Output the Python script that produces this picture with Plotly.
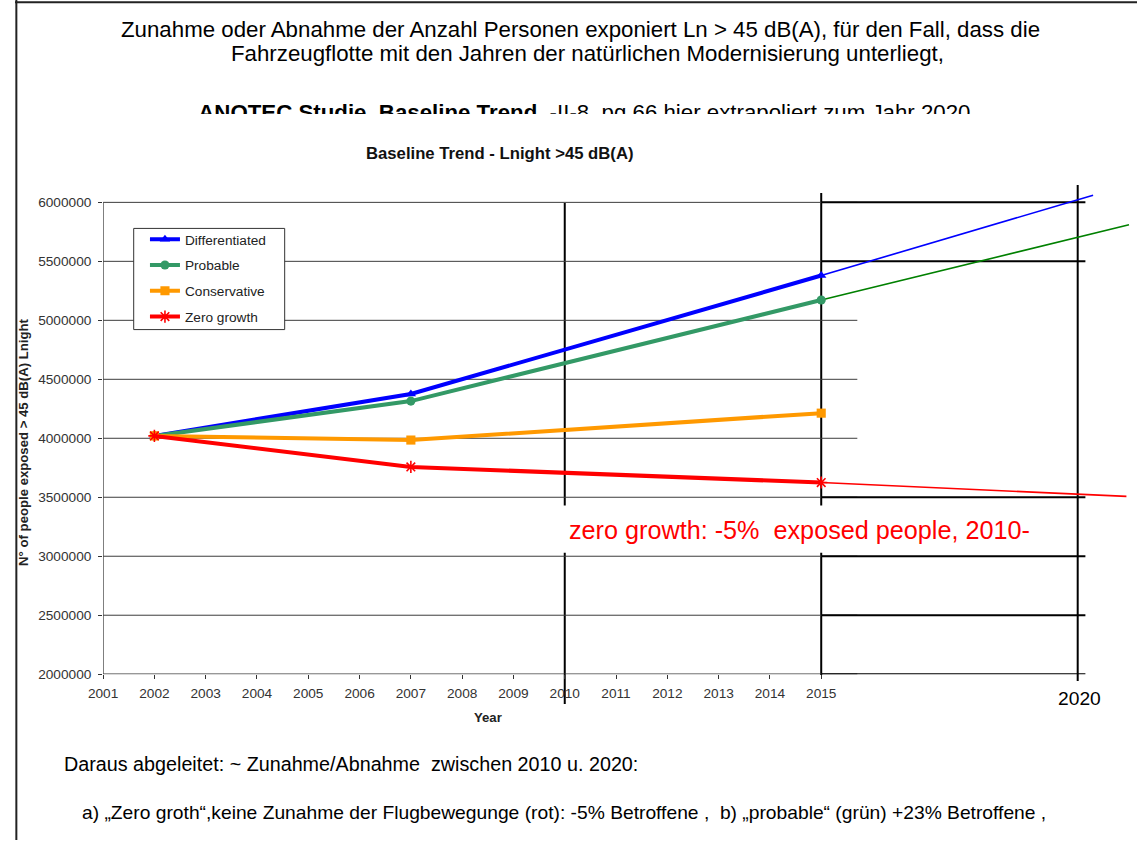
import plotly.graph_objects as go

W, H = 1137, 848
FONT = "Liberation Sans, Arial, sans-serif"

# ---------------- data ----------------
YEARS = [2002, 2007, 2015]
DIFFERENTIATED = [4020000, 4375000, 5380000]
PROBABLE = [4020000, 4315000, 5172000]
CONSERVATIVE = [4020000, 3985000, 4213000]
ZERO_GROWTH = [4020000, 3757000, 3625000]

# hand-drawn extrapolation lines
EXT_DIFF_YEARS = [2015, 2020.3]
EXT_DIFF = [5380000, 6060000]
EXT_PROB_YEARS = [2015, 2021.0]
EXT_PROB = [5172000, 5810000]
EXT_ZERO_YEARS = [2015, 2020.95]
EXT_ZERO = [3625000, 3507000]

X_TICKS = list(range(2001, 2016))
X_TICK_LABELS = [str(v) for v in X_TICKS]
Y_TICKS = [2000000, 2500000, 3000000, 3500000, 4000000, 4500000, 5000000, 5500000, 6000000]
Y_TICK_LABELS = ["2000000", "2500000", "3000000", "3500000", "4000000",
                 "4500000", "5000000", "5500000", "6000000"]
EXT_GRID_LEVELS = [6000000, 5500000, 3500000, 3000000, 2500000, 2000000]
MARK_YEARS = [2010, 2015, 2020]

SERIES = [
    ("Differentiated", DIFFERENTIATED, "#0000FF", "triangle-up"),
    ("Probable", PROBABLE, "#339966", "circle"),
    ("Conservative", CONSERVATIVE, "#FF9900", "square"),
    ("Zero growth", ZERO_GROWTH, "#FF0000", "asterisk-open"),
]
EXTENSIONS = [
    (EXT_DIFF_YEARS, EXT_DIFF, "#0000FF"),
    (EXT_PROB_YEARS, EXT_PROB, "#008000"),
    (EXT_ZERO_YEARS, EXT_ZERO, "#FF0000"),
]

# ---------------- geometry (target-picture pixels -> figure pixels) ----------------
SX, OX = 0.9869, 14.6
SY, OY = 0.9888, 0.3
S = 1 / 0.9875  # size compensation


def RX(x):
    return (x - OX) / SX


def RY(y):
    return (y - OY) / SY


def PX(x):
    return RX(x) / W


def PY(y):
    return 1 - RY(y) / H


X_LEFT = 102.7       # picture px of year 2001
PX_PER_YEAR = 51.3   # picture px per year
Y_BOT = 673.3        # picture px of 2 000 000
Y_TOP = 180.0        # top of data area
PX_PER_MIO = 117.75  # picture px per million

x_left_fig = RX(X_LEFT)
x_range = [2001, 2001 + (W - x_left_fig) / (PX_PER_YEAR / SX)]
y_range = [2000000, 2000000 + (Y_BOT - Y_TOP) / PX_PER_MIO * 1e6]
x_grid_end = 2001 + (857 - X_LEFT) / PX_PER_YEAR

fig = go.Figure()

for xs, ys, col in EXTENSIONS:
    fig.add_trace(go.Scatter(x=xs, y=ys, mode="lines", line=dict(color=col, width=1.6 * S),
                             showlegend=False, hoverinfo="skip"))

for i, (name, vals, col, sym) in enumerate(SERIES):
    marker = dict(symbol=sym, size=9 * S, color=col)
    if sym == "asterisk-open":
        marker = dict(symbol=sym, size=10 * S, color=col, line=dict(color=col, width=1.6))
    fig.add_trace(go.Scatter(x=YEARS, y=vals, mode="lines+markers", name=name,
                             line=dict(color=col, width=4 * S), marker=marker,
                             legendgroup=f"g{i}"))

# header line partly hidden behind the chart picture (clipped by its own subplot)
CLIP_Y = 114
fig.add_trace(go.Scatter(
    x=[584], y=[114.5], mode="text", xaxis="x2", yaxis="y2",
    text=["<b>ANOTEC Studie, Baseline Trend</b>, -II-8, pg 66 hier extrapoliert zum Jahr 2020"],
    textfont=dict(family=FONT, size=22 * S, color="#000000"), textposition="middle center",
    cliponaxis=True, showlegend=False, hoverinfo="skip"))

shapes = []
for v in Y_TICKS[1:]:
    shapes.append(dict(type="line", xref="x", yref="y", x0=2001, x1=x_grid_end, y0=v, y1=v,
                       line=dict(color="#3c3c3c", width=1), layer="below"))
shapes.append(dict(type="line", xref="x", yref="y", x0=2001, x1=2001, y0=Y_TICKS[0], y1=Y_TICKS[-1],
                   line=dict(color="#333333", width=1.2), layer="below"))
shapes.append(dict(type="line", xref="x", yref="y", x0=2001, x1=x_grid_end, y0=Y_TICKS[0], y1=Y_TICKS[0],
                   line=dict(color="#333333", width=1.2), layer="below"))
for v in EXT_GRID_LEVELS:
    shapes.append(dict(type="line", xref="x", yref="y", x0=2015.0, x1=2020.15, y0=v, y1=v,
                       line=dict(color="#000000", width=2), layer="below"))
vspan = {2010: (203, 703), 2015: (193, 674), 2020: (185, 680)}
for yr in MARK_YEARS:
    t, b = vspan[yr]
    shapes.append(dict(type="line", xref="x", yref="paper", x0=yr, x1=yr, y0=PY(b), y1=PY(t),
                       line=dict(color="#000000", width=2), layer="below"))
shapes.append(dict(type="rect", xref="x", yref="y", x0=2009.85, x1=2019.6, y0=3030000, y1=3430000,
                   fillcolor="#FFFFFF", line=dict(width=0), layer="below"))
# legend frame
shapes.append(dict(type="rect", xref="paper", yref="paper", x0=PX(133.3), x1=PX(284.3),
                   y0=PY(329.3), y1=PY(228.3), fillcolor="#FFFFFF",
                   line=dict(color="#333333", width=1), layer="above"))
# slide borders
shapes.append(dict(type="line", xref="paper", yref="paper", x0=0, x1=1, y0=PY(2.5), y1=PY(2.5),
                   line=dict(color="#222222", width=2)))
shapes.append(dict(type="line", xref="paper", yref="paper", x0=0.0012, x1=0.0012, y0=0, y1=1,
                   line=dict(color="#222222", width=2)))


def ann(text, x, y, size, color="#000000", xanchor="center", bold=False, angle=0):
    return dict(text=(f"<b>{text}</b>" if bold else text), x=PX(x), y=PY(y), xref="paper",
                yref="paper", showarrow=False, xanchor=xanchor, yanchor="middle",
                textangle=angle, font=dict(family=FONT, size=size * S, color=color))


annotations = [
    ann("Zunahme oder Abnahme der Anzahl Personen exponiert Ln &gt; 45 dB(A), für den Fall, dass die",
        580, 30, 22),
    ann("Fahrzeugflotte mit den Jahren der natürlichen Modernisierung unterliegt,", 587, 54, 22),
    ann("Baseline Trend - Lnight &gt;45 dB(A)", 500, 153.5, 16.5, "#111111", bold=True),
    ann("N° of people exposed &gt; 45 dB(A) Lnight", 23, 442, 13, "#222222", bold=True, angle=-90),
    ann("Year", 487.7, 717, 13, "#222222", bold=True),
    ann("2020", 1079, 698, 19),
    ann("zero growth: -5%\u00a0 exposed people, 2010-", 567, 529, 24.9, "#FF0000", xanchor="left"),
    ann("Daraus abgeleitet: ~ Zunahme/Abnahme\u00a0 zwischen 2010 u. 2020:", 62, 763, 19.5, xanchor="left"),
    ann("a) \u201eZero groth\u201c,keine Zunahme der Flugbewegunge (rot): -5% Betroffene ,\u00a0 b) "
        "\u201eprobable\u201c (grün) +23% Betroffene ,", 80, 811, 19, xanchor="left"),
]

fig.update_layout(
    width=W, height=H, margin=dict(l=0, r=0, t=0, b=0, pad=0),
    paper_bgcolor="#FFFFFF", plot_bgcolor="rgba(0,0,0,0)",
    font=dict(family=FONT, size=13, color="#333333"),
    xaxis=dict(domain=[x_left_fig / W, 1], range=x_range, tickvals=X_TICKS, ticktext=X_TICK_LABELS,
               ticks="outside", ticklen=4, tickcolor="#333333", showgrid=False, zeroline=False,
               showline=False, tickfont=dict(family=FONT, size=13.5 * S, color="#333333"),
               ticklabelstandoff=2, fixedrange=True),
    yaxis=dict(domain=[PY(Y_BOT), PY(Y_TOP)], range=y_range, tickvals=Y_TICKS,
               ticktext=Y_TICK_LABELS, ticks="outside", ticklen=4, tickcolor="#333333",
               showgrid=False, zeroline=False, showline=False,
               tickfont=dict(family=FONT, size=13.5 * S, color="#333333"), ticklabelstandoff=4,
               fixedrange=True),
    xaxis2=dict(domain=[0, 1], range=[OX, OX + SX * W], visible=False, anchor="y2", fixedrange=True),
    yaxis2=dict(domain=[PY(CLIP_Y), 1], range=[CLIP_Y, OY], visible=False, anchor="x2", fixedrange=True),
    legend=dict(x=131.7 / W, y=1 - 226 / H, xanchor="left", yanchor="top",
                bgcolor="rgba(0,0,0,0)", borderwidth=0,
                font=dict(family=FONT, size=13.5 * S, color="#222222"),
                tracegroupgap=5, itemwidth=30),
    shapes=shapes,
    annotations=annotations,
    showlegend=True,
)

fig.write_html(
    "out.html", config={"displayModeBar": False},
    post_script="document.body.style.margin='0';document.body.style.overflow='hidden';")
